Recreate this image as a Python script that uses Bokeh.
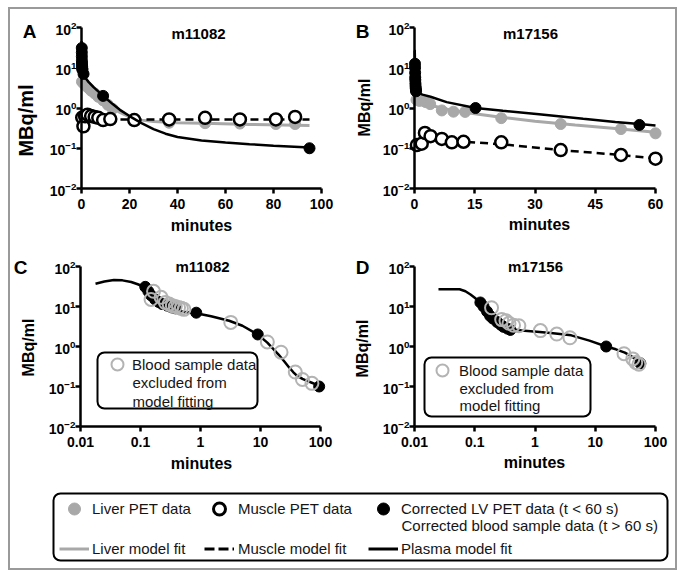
from math import log10, pi
from bokeh.plotting import figure
from bokeh.models import (Range1d, FixedTicker, CustomJSTickFormatter, Label, Legend,
                          LegendItem, ColumnDataSource, BoxAnnotation)
from bokeh.layouts import column, row
from bokeh.embed import file_html
from bokeh.resources import INLINE

FONT = "Liberation Sans"
GRAY = "#a8a8a8"
EXCL = "#b3b3b3"
TXT = "#151515"

# ---------------- m11082 (panels A and C) ----------------
a_liver_t = [0.2, 0.6, 1.2, 2, 3, 4, 5.5, 7, 9, 11, 13, 22, 36.5, 51.5, 66, 81, 89]
a_liver_v = [4.5, 4.3, 3.9, 3.5, 3.1, 2.7, 2.3, 1.9, 1.55, 1.2, 0.95, 0.52, 0.43, 0.42, 0.41, 0.4, 0.4]
a_liverfit_t = [0, 1, 2, 4, 6, 8, 10, 13, 16, 20, 25, 30, 40, 55, 70, 95]
a_liverfit_v = [4.8, 4.1, 3.5, 2.7, 2.1, 1.7, 1.35, 1.0, 0.78, 0.6, 0.5, 0.46, 0.43, 0.41, 0.39, 0.37]
a_muscle_t = [0.3, 0.8, 1.5, 2.5, 4, 5.5, 7, 9, 12, 22, 36.5, 51.5, 66, 81, 89]
a_muscle_v = [0.58, 0.35, 0.62, 0.68, 0.63, 0.6, 0.57, 0.5, 0.53, 0.5, 0.52, 0.57, 0.52, 0.52, 0.6]
a_musclefit_t = [0, 2, 10, 30, 60, 95]
a_musclefit_v = [0.5, 0.52, 0.52, 0.52, 0.52, 0.52]
a_plasma_t = [0.0178, 0.025, 0.036, 0.05, 0.07, 0.09, 0.12, 0.15, 0.2, 0.3, 0.5, 0.85, 1.5, 3, 5,
              9, 13, 16, 20, 25, 30, 35, 40, 50, 60, 70, 80, 95]
a_plasma_v = [37, 42, 46, 45, 41, 36, 30, 20, 13.5, 10, 7.4, 6.8, 5.7, 4.4, 3.3,
              2.0, 1.25, 0.9, 0.63, 0.42, 0.3, 0.23, 0.19, 0.155, 0.138, 0.126, 0.116, 0.104]
a_blood_t = [0.12, 0.135, 0.15, 0.175, 0.2, 0.23, 0.28, 0.33, 0.38, 0.85, 9, 95]
a_blood_v = [31, 24, 19, 15, 13, 11.5, 10.5, 9.5, 9, 7.0, 2.0, 0.1]
c_excl_t = [0.15, 0.165, 0.22, 0.26, 0.3, 0.34, 0.38, 0.43, 0.48, 0.53, 3.2, 13, 22, 38, 50, 72]
c_excl_v = [15, 24, 17, 12.5, 11.5, 10.5, 10, 9.5, 9, 8.5, 4.0, 1.3, 0.72, 0.23, 0.15, 0.12]

# ---------------- m17156 (panels B and D) ----------------
b_liver_t = [0.5, 1.2, 1.8, 2.8, 3.9, 6.8, 9.7, 12.6, 21.6, 36.4, 51.4, 60]
b_liver_v = [1.6, 1.5, 1.55, 1.4, 1.25, 0.87, 0.81, 0.8, 0.56, 0.4, 0.3, 0.235]
b_liverfit_t = [0, 2, 5, 10, 15, 22, 30, 40, 50, 60]
b_liverfit_v = [1.6, 1.45, 1.1, 0.85, 0.72, 0.58, 0.47, 0.38, 0.31, 0.25]
b_muscle_t = [0.6, 1.8, 2.6, 4.0, 6.8, 9.3, 12.2, 21.6, 36.4, 51.4, 60]
b_muscle_v = [0.12, 0.13, 0.24, 0.2, 0.17, 0.14, 0.145, 0.14, 0.09, 0.068, 0.055]
b_musclefit_t = [0.2, 3, 10, 22, 36.4, 51.4, 60]
b_musclefit_v = [0.15, 0.165, 0.15, 0.125, 0.09, 0.068, 0.056]
d_plasma_t = [0.025, 0.04, 0.056, 0.07, 0.085, 0.1, 0.124, 0.15, 0.18, 0.23, 0.3, 0.4, 0.6, 1.2,
              2, 4, 8, 15.2, 22, 31, 42, 50, 56, 60]
d_plasma_v = [27, 27, 27, 24, 20, 16.5, 12.6, 8.5, 5.8, 4.2, 3.2, 2.7, 2.5, 2.3,
              2.15, 1.9, 1.4, 1.0, 0.85, 0.7, 0.54, 0.45, 0.4, 0.37]
d_blood_t = [0.124, 0.14, 0.16, 0.18, 0.2, 0.235, 0.27, 0.3, 0.35, 0.39, 15.2, 56]
d_blood_v = [12.6, 10, 7.5, 5.8, 5.0, 4.1, 3.5, 3.1, 2.8, 2.6, 1.0, 0.38]
d_excl_t = [0.19, 0.28, 0.33, 0.37, 0.44, 0.54, 1.23, 2.3, 3.8, 30, 42, 47, 53]
d_excl_v = [9.3, 4.7, 4.4, 3.8, 3.4, 3.3, 2.5, 2.05, 1.65, 0.66, 0.49, 0.4, 0.36]

y_ticks = [0.01, 0.1, 1, 10, 100]
a_xticks = [0, 20, 40, 60, 80, 100]
b_xticks = [0, 15, 30, 45, 60]
log_xticks = [0.01, 0.1, 1, 10, 100]

HAS_RADIUS_BOX = "border_radius" in BoxAnnotation.properties()


def lin_range(v0, p0, v1, p1, a, b):
    s = (v1 - v0) / (p1 - p0)
    return Range1d(v0 + (a - p0) * s, v0 + (b - p0) * s)


def log_range(v0, p0, v1, p1, a, b):
    l0, l1 = log10(v0), log10(v1)
    s = (l1 - l0) / (p1 - p0)
    return Range1d(10 ** (l0 + (a - p0) * s), 10 ** (l0 + (b - p0) * s))


def text(p, box, px, py, s, size, bold=True, align="center", angle=0.0, color="black"):
    p.add_layout(Label(x=px - box[0], y=box[1] + box[3] - py, x_units="screen", y_units="screen",
                       text=s, text_font=FONT, text_font_style="bold" if bold else "normal",
                       text_font_size=f"{size}px", text_align=align, text_baseline="middle",
                       angle=angle, text_color=color))


def rbox(p, box, x0, x1, y0, y1):
    X0, Y0, W, H = box
    b = BoxAnnotation(left=x0 - X0, right=x1 - X0, bottom=Y0 + H - y1, top=Y0 + H - y0,
                      left_units="screen", right_units="screen", top_units="screen",
                      bottom_units="screen", fill_color="white", fill_alpha=1,
                      line_color="black", line_width=2, line_alpha=1)
    if HAS_RADIUS_BOX:
        b.border_radius = 7
    p.add_layout(b)


def make_panel(box, xa, ya, x_type, xticks):
    X0, Y0, W, H = box
    if x_type == "log":
        xr = log_range(*xa, X0, X0 + W)
    else:
        xr = lin_range(*xa, X0, X0 + W)
    yr = log_range(*ya, Y0 + H, Y0)
    p = figure(width=W, height=H, x_range=xr, y_range=yr, x_axis_type=x_type,
               y_axis_type="log", toolbar_location=None, output_backend="svg",
               min_border=0, title=None)
    p.grid.visible = False
    p.outline_line_color = None
    p.background_fill_color = "white"
    p.border_fill_color = "white"
    p.xaxis.ticker = FixedTicker(ticks=xticks)
    p.yaxis.ticker = FixedTicker(ticks=y_ticks)
    p.xaxis.fixed_location = 0.01
    p.yaxis.fixed_location = xa[0]
    p.xaxis.bounds = (xa[0], xa[2])
    p.yaxis.bounds = (0.01, 100)
    if x_type == "log":
        p.xaxis.formatter = CustomJSTickFormatter(code="return tick.toString();")
    for ax in p.axis:
        ax.axis_line_width = 2.5
        ax.axis_line_color = "black"
        ax.major_tick_line_width = 2.5
        ax.major_tick_line_color = "black"
        ax.major_tick_in = 0
        ax.major_tick_out = 5
        ax.minor_tick_line_color = None
        ax.major_label_text_font = FONT
        ax.major_label_text_font_style = "bold"
        ax.major_label_text_font_size = "14px"
        ax.major_label_text_color = "black"
    p.xaxis.major_label_standoff = 5
    p.yaxis.major_label_standoff = 0
    return p


def linear_panel(p, lft, lfv, lt, lv, mft, mfv, mt, mv, pt, pv, bt, bv):
    p.line(lft, lfv, line_color=GRAY, line_width=3)
    p.scatter(lt, lv, size=11, fill_color=GRAY, line_color=GRAY)
    p.line(mft, mfv, line_color="black", line_width=2.5, line_dash="8 5")
    p.scatter(mt, mv, size=12, fill_color="white", line_color="black", line_width=2.5)
    p.line(pt, pv, line_color="black", line_width=2.5)
    p.scatter(bt, bv, size=11, fill_color="black", line_color="black")


def log_panel(p, box, pt, pv, bt, bv, et, ev, lg):
    X0, Y0, W, H = box
    p.line(pt, pv, line_color="black", line_width=2.5)
    p.scatter(bt, bv, size=11, fill_color="black", line_color="black")
    r = p.scatter(et, ev, size=13, fill_color=None, line_color=EXCL, line_width=2)
    bx0, bx1, by0, by1, cx, ly, lx, dy = lg
    rbox(p, box, bx0, bx1, by0, by1)
    gw, gh = 30, 34
    leg = Legend(items=[LegendItem(label="Blood sample data", renderers=[r])],
                 location=(cx - gw / 2 - X0, Y0 + H - (ly + gh / 2)),
                 label_text_font=FONT, label_text_font_size="15px", label_text_color=TXT,
                 label_height=18, label_standoff=int(lx - (cx + gw / 2)),
                 glyph_width=gw, glyph_height=gh, padding=0, margin=0, spacing=0,
                 border_line_color=None, background_fill_color=None)
    p.add_layout(leg, "center")
    text(p, box, lx, ly + dy, "excluded from", 15, bold=False, align="left", color=TXT)
    text(p, box, lx, ly + 2 * dy, "model fitting", 15, bold=False, align="left", color=TXT)


# page geometry: (left, top, width, height) of each figure
BOX_A = (10, 9, 332, 242)
BOX_B = (342, 9, 333, 242)
BOX_C = (10, 251, 332, 236)
BOX_D = (342, 251, 333, 236)
BOX_L = (10, 487, 665, 81)

# ---- Panel A ----
pA = make_panel(BOX_A, (0, 81, 100, 321), (100, 27, 0.01, 188), "linear", a_xticks)
linear_panel(pA, a_liverfit_t, a_liverfit_v, a_liver_t, a_liver_v, a_musclefit_t, a_musclefit_v,
             a_muscle_t, a_muscle_v, a_plasma_t, a_plasma_v, a_blood_t, a_blood_v)
text(pA, BOX_A, 29, 31, "A", 19)
text(pA, BOX_A, 198, 33, "m11082", 15)
text(pA, BOX_A, 25, 120, "MBq/ml", 20, angle=pi / 2)
text(pA, BOX_A, 201, 225, "minutes", 16)

# ---- Panel B ----
pB = make_panel(BOX_B, (0, 414, 60, 655), (100, 27, 0.01, 188), "linear", b_xticks)
linear_panel(pB, b_liverfit_t, b_liverfit_v, b_liver_t, b_liver_v, b_musclefit_t, b_musclefit_v,
             b_muscle_t, b_muscle_v, d_plasma_t, d_plasma_v, d_blood_t, d_blood_v)
text(pB, BOX_B, 362, 31, "B", 19)
text(pB, BOX_B, 530, 33, "m17156", 15)
text(pB, BOX_B, 364, 107, "MBq/ml", 16, angle=pi / 2)
text(pB, BOX_B, 539, 224, "minutes", 16)

# ---- Panel C ----
pC = make_panel(BOX_C, (0.01, 80, 100, 320), (100, 266, 0.01, 426), "log", log_xticks)
log_panel(pC, BOX_C, a_plasma_t, a_plasma_v, a_blood_t, a_blood_v, c_excl_t, c_excl_v,
          (97, 257, 352, 408, 117, 364, 132, 18.3))
text(pC, BOX_C, 20, 267, "C", 19)
text(pC, BOX_C, 202, 266, "m11082", 15)
text(pC, BOX_C, 28, 347, "MBq/ml", 16, angle=pi / 2)
text(pC, BOX_C, 201, 463, "minutes", 16)

# ---- Panel D ----
pD = make_panel(BOX_D, (0.01, 414, 100, 655), (100, 266, 0.01, 426), "log", log_xticks)
log_panel(pD, BOX_D, d_plasma_t, d_plasma_v, d_blood_t, d_blood_v, d_excl_t, d_excl_v,
          (424, 590, 357, 416, 442, 370, 459, 17.5))
text(pD, BOX_D, 362, 267, "D", 19)
text(pD, BOX_D, 535, 266, "m17156", 15)
text(pD, BOX_D, 362, 348, "MBq/ml", 16, angle=pi / 2)
text(pD, BOX_D, 534, 462, "minutes", 16)

# ---- Bottom legend ----
X0, Y0, W, H = BOX_L
lg = figure(width=W, height=H, x_range=Range1d(0, 1), y_range=Range1d(0, 1),
            x_axis_type=None, y_axis_type=None, toolbar_location=None,
            output_backend="svg", min_border=0, title=None)
lg.outline_line_color = None
lg.background_fill_color = "white"
lg.border_fill_color = "white"
nan = float("nan")
src = ColumnDataSource(dict(x=[nan], y=[nan]))
r_liver = lg.scatter("x", "y", source=src, fill_color=GRAY, line_color=GRAY)
r_muscle = lg.scatter("x", "y", source=src, fill_color="white",
                      line_color="black", line_width=3)
r_blood = lg.scatter("x", "y", source=src, fill_color="black", line_color="black")
r_lfit = lg.line("x", "y", source=src, line_color=GRAY, line_width=3)
r_mfit = lg.line("x", "y", source=src, line_color="black", line_width=3, line_dash="10 4")
r_pfit = lg.line("x", "y", source=src, line_color="black", line_width=3)

rbox(lg, BOX_L, 53, 667, 493, 560)

columns_spec = [
    ([("Liver PET data", r_liver), ("Liver model fit", r_lfit)], 59, 3),
    ([("Muscle PET data", r_muscle), ("Muscle model fit", r_mfit)], 204, 4),
    ([("Corrected LV PET data (t < 60 s)", r_blood), ("Plasma model fit", r_pfit)], 368, 3),
]
ROW1, ROW2 = 508, 548
GW, GH = 30, 31
for entries, left, so in columns_spec:
    leg = Legend(items=[LegendItem(label=lab, renderers=[r]) for lab, r in entries],
                 location=(left - X0, Y0 + H - (ROW2 + GH / 2)), orientation="vertical",
                 label_text_font=FONT, label_text_font_size="15px", label_text_color=TXT,
                 label_height=18, label_standoff=so, glyph_width=GW, glyph_height=GH,
                 padding=0, margin=0, spacing=ROW2 - ROW1 - GH,
                 border_line_color=None, background_fill_color=None)
    lg.add_layout(leg, "center")
text(lg, BOX_L, 401, 525, "Corrected blood sample data (t > 60 s)", 15, bold=False,
     align="left", color=TXT)

layout = column(row(pA, pB), row(pC, pD), lg, margin=(7, 0, 0, 8),
                styles={"border": "2px solid #9a9a9a"})

with open("out.html", "w") as f:
    f.write(file_html(layout, INLINE))
